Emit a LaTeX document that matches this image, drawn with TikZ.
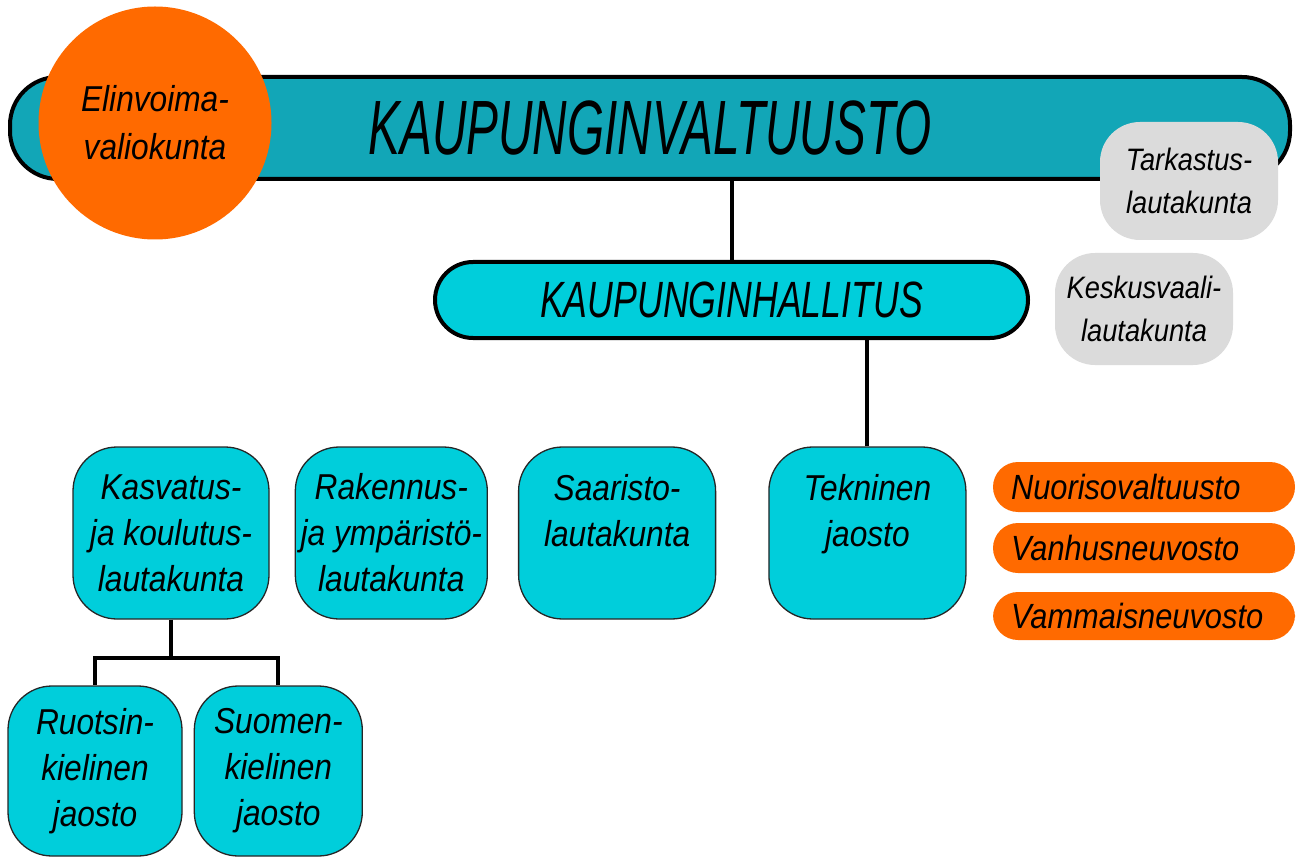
\documentclass[tikz,border=0pt]{standalone}
\usepackage{fontspec}
\setmainfont{Liberation Sans}[FakeStretch=0.88]
\newfontfamily\valtfont{Liberation Sans}[FakeStretch=0.62]
\newfontfamily\hallfont{Liberation Sans}[FakeStretch=0.70]
\usepackage{tikz}
\usetikzlibrary{positioning}
\definecolor{kvteal}{RGB}{18,166,183}
\definecolor{kvcyan}{RGB}{0,206,219}
\definecolor{kvorange}{RGB}{255,106,0}
\definecolor{kvgrey}{RGB}{219,219,219}
\tikzstyle{connector} = [line width=4, color=black]
\tikzstyle{council} = [rectangle, rounded corners=48, draw=black, line width=4, fill=kvteal, inner sep=0, font=\itshape]
\tikzstyle{board} = [rectangle, rounded corners=44, draw=black!85, line width=1.3, fill=kvcyan, align=center, inner sep=0, font=\itshape\fontsize{36}{46}\selectfont]
\tikzstyle{greybox} = [rectangle, rounded corners=40, fill=kvgrey, align=center, inner sep=0, font=\itshape\fontsize{31}{43}\selectfont]
\tikzstyle{pill} = [rectangle, rounded corners=25, fill=kvorange, minimum height=50, text width=266, inner xsep=18, inner ysep=0, align=left, font=\itshape\fontsize{35}{38}\selectfont]

\begin{document}
\begin{tikzpicture}[x=1pt, y=-1pt]
\useasboundingbox (0,0) rectangle (1297,858);

% Council and the bodies beside it
\node (kv) [council, minimum width=1280, minimum height=102] at (650,128) {\valtfont\fontsize{77}{80}\selectfont KAUPUNGINVALTUUSTO};
\node (ev) [circle, fill=kvorange, minimum size=233, inner sep=0, align=center, font=\itshape\fontsize{36}{48}\selectfont] at (155,123) {Elinvoima-\\valiokunta};
\node (tl) [greybox, minimum width=178, minimum height=118] at (1189,181) {Tarkastus-\\lautakunta};
\node (kl) [greybox, minimum width=178, minimum height=112] at (1144,309) {Keskusvaali-\\lautakunta};

% City board
\node (kh) [council, rounded corners=38, fill=kvcyan, minimum width=593, minimum height=76] at (731.5,300) {\hallfont\fontsize{51}{54}\selectfont KAUPUNGINHALLITUS};

% Boards
\node (kk) [board, minimum width=196, minimum height=172] at (171,533) {Kasvatus-\\ja koulutus-\\lautakunta};
\node (ry) [board, right=25 of kk, minimum width=192, minimum height=172] {Rakennus-\\ja ympäristö-\\lautakunta};
\node (sl) [board, right=30 of ry, minimum width=197, minimum height=172] {Saaristo-\\lautakunta\\\phantom{l}};
\node (tj) [board, right=52 of sl, minimum width=197, minimum height=172] {Tekninen\\jaosto\\\phantom{l}};

% Divisions
\node (rj) [board, minimum width=174, minimum height=170] at (95,771) {Ruotsin-\\kielinen\\jaosto};
\node (sj) [board, right=11 of rj, minimum width=168, minimum height=170] {Suomen-\\kielinen\\jaosto};

% Councils for groups
\node (no) [pill] at (1144,487) {Nuorisovaltuusto};
\node (vn) [pill] at (1144,548) {Vanhusneuvosto};
\node (vm) [pill, minimum height=48] at (1144,616) {Vammaisneuvosto};

% Connections
\draw[connector] (kh.north) -- (kh.north |- kv.south);
\draw[connector] (tj.north) -- (tj.north |- kh.south);
\draw[connector] (kk.south) -- ++(0,38) -| (rj.north);
\draw[connector] ([yshift=-38]kk.south) -| (sj.north);
\end{tikzpicture}
\end{document}
